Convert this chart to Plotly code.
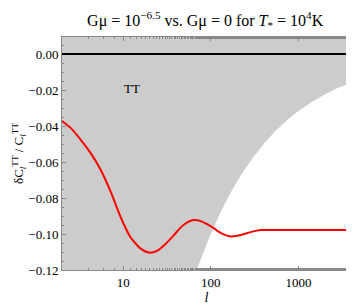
import plotly.graph_objects as go

# red curve: delta C_l / C_l
ell = [2, 2.54, 3.29, 4.27, 5.54, 7.19, 9.3, 12, 15.7, 19.5, 24, 30, 37, 44, 50, 57, 65, 78, 93, 109, 120, 140, 170, 200, 240, 290, 372, 500, 700, 1000, 1500, 2000, 3000, 4000]
dcl = [-0.0372, -0.0413, -0.0478, -0.0552, -0.0644, -0.0765, -0.0904, -0.1015, -0.1080, -0.1103,
       -0.1095, -0.1058, -0.1012, -0.0970, -0.0946, -0.0929, -0.0922, -0.0930, -0.0948, -0.0969,
       -0.0984, -0.1002, -0.1014, -0.1010, -0.1000, -0.0988, -0.0978, -0.0978, -0.0978, -0.0978,
       -0.0978, -0.0978, -0.0978, -0.0978]

# grey band boundary (cosmic-variance-like envelope)
band_l = [2, 10, 30, 60, 70, 80, 100, 130, 170, 220, 300, 400, 550, 750, 1000, 1400, 2000, 2800, 4000]
band_v = [0.632, 0.302, 0.181, 0.129, 0.119, 0.1115, 0.0998, 0.0875, 0.0766, 0.0673, 0.0577,
          0.0500, 0.0426, 0.0365, 0.0316, 0.0267, 0.0224, 0.0189, 0.0158]

yticks = [0.0, -0.02, -0.04, -0.06, -0.08, -0.10, -0.12]
xticks = [10, 100, 1000]

serif = "Liberation Serif"
fig = go.Figure()
fig.add_trace(go.Scatter(x=band_l, y=[-v for v in band_v], mode="lines",
                         line=dict(width=0, color="#cccccc"), hoverinfo="skip", showlegend=False))
fig.add_trace(go.Scatter(x=band_l, y=band_v, mode="lines", fill="tonexty", fillcolor="#cccccc",
                         line=dict(width=0, color="#cccccc"), hoverinfo="skip", showlegend=False))
fig.add_hline(y=0, line=dict(color="black", width=2))
fig.add_trace(go.Scatter(x=ell, y=dcl, mode="lines", line=dict(color="#ff0000", width=2, shape="spline", smoothing=0.6),
                         showlegend=False))

fig.add_annotation(x=1.10, y=-0.0189, xref="x", yref="y", text="TT", showarrow=False,
                   font=dict(family=serif, size=13, color="black"))

fig.update_layout(
    width=354, height=305,
    margin=dict(l=51, r=10, t=29, b=43),
    paper_bgcolor="white", plot_bgcolor="white",
    title=dict(text="Gμ = 10<sup>−6.5</sup> vs. Gμ = 0 for <i>T</i><sub>*</sub> = 10<sup>4</sup>K",
               x=0.557, xanchor="center", y=0.978, yanchor="top",
               font=dict(family=serif, size=16, color="black")),
    font=dict(family=serif, size=13, color="black"),
)
fig.update_xaxes(type="log", range=[0.301, 3.6], tickvals=xticks, ticktext=[str(v) for v in xticks],
                 ticks="inside", ticklen=4, tickcolor="#888888", showline=True, linecolor="#888888",
                 mirror="ticks", showgrid=False, zeroline=False,
                 minor=dict(ticks="inside", ticklen=2, tickcolor="#888888", showgrid=False),
                 title=dict(text="<i>l</i>", standoff=3, font=dict(family=serif, size=14)),
                 tickfont=dict(family=serif, size=13))
fig.update_yaxes(range=[-0.12, 0.0095], tickvals=yticks, tickformat=".2f",
                 ticks="inside", ticklen=4, tickcolor="#888888", showline=True, linecolor="#888888",
                 mirror="ticks", showgrid=False, zeroline=False,
                 minor=dict(ticks="inside", ticklen=2, tickcolor="#888888", dtick=0.005, showgrid=False),
                 title=dict(text="δC<sub><i>l</i></sub><sup>TT</sup> / C<sub><i>l</i></sub><sup>TT</sup>",
                            standoff=1, font=dict(family=serif, size=13)),
                 tickfont=dict(family=serif, size=13))
fig.write_html("out.html")
